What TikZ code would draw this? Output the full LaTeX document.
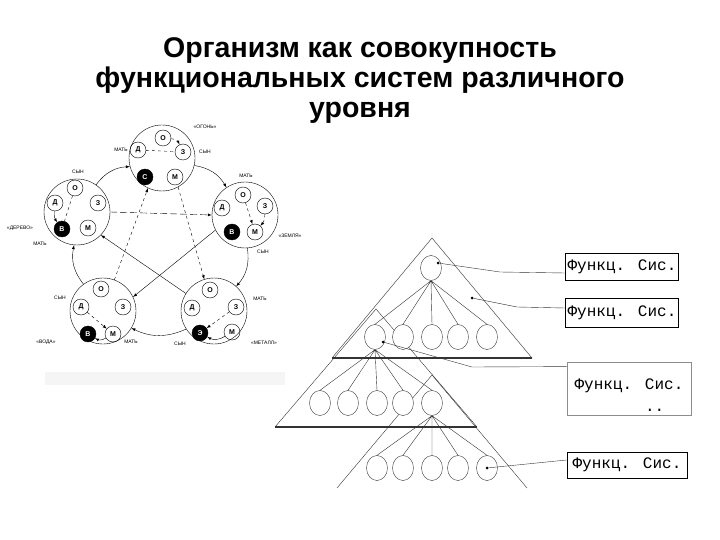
\documentclass[tikz,border=0pt]{standalone}
\usepackage{fontspec}
\setmainfont{Liberation Sans}
\newfontfamily\boxfont{Liberation Mono}
\usetikzlibrary{shapes,arrows}

\begin{document}
\begin{tikzpicture}[x=1pt,y=-1pt,>=latex,
    big/.style={circle,draw,minimum size=66pt,inner sep=0pt},
    sub/.style={circle,draw,minimum size=16pt,inner sep=0pt,font=\bfseries\fontsize{7}{7}\selectfont},
    blk/.style={sub,fill=black,text=white},
    role/.style={font=\fontsize{5}{5}\selectfont},
    leaf/.style={ellipse,draw=black!80,fill=white,minimum width=21pt,minimum height=25pt,inner sep=0pt},
    dot/.style={circle,fill,inner sep=0pt,minimum size=3pt},
    fsys/.style={draw,line width=0.9pt,font=\boxfont\fontsize{16}{18}\selectfont,inner sep=2pt}]

\useasboundingbox (0,0) rectangle (720,540);

\node[font=\bfseries\fontsize{28.5}{30}\selectfont,align=center] (title) at (360,81)
    {Организм как совокупность\\функциональных систем различного\\уровня};

% five elements
\fill[black!4] (45,372) rectangle (285,385);

\node[big] (T) at (162,158) {};
\node[big] (UL) at (77,212) {};
\node[big] (UR) at (245,215) {};
\node[big] (LL) at (103,311) {};
\node[big] (LR) at (214,311) {};

\node[sub] (To) at (163,138) {О};
\node[sub] (Td) at (138,150) {Д};
\node[sub] (Tz) at (183,152) {З};
\node[blk] (Tb) at (145,177) {С};
\node[sub] (Tm) at (175,177) {М};

\node[sub] (ULo) at (75,188) {О};
\node[sub] (ULd) at (55,203) {Д};
\node[sub] (ULz) at (98,203) {З};
\node[blk] (ULb) at (62,229) {В};
\node[sub] (ULm) at (88,228) {М};

\node[sub] (URo) at (243,195) {О};
\node[sub] (URd) at (222,208) {Д};
\node[sub] (URz) at (265,206) {З};
\node[blk] (URb) at (232,232) {В};
\node[sub] (URm) at (255,232) {М};

\node[sub] (LLo) at (101,289) {О};
\node[sub] (LLd) at (81,307) {Д};
\node[sub] (LLz) at (123,307) {З};
\node[blk] (LLb) at (88,334) {В};
\node[sub] (LLm) at (113,334) {М};

\node[sub] (LRo) at (210,290) {О};
\node[sub] (LRd) at (192,308) {Д};
\node[sub] (LRz) at (236,307) {З};
\node[blk] (LRb) at (200,333) {Э};
\node[sub] (LRm) at (232,332) {М};

\node[role] (Tt) at (205,127) {«ОГОНЬ»};
\node[role] (Tl) at (121,150) {МАТЬ};
\node[role] (Tr) at (205,152) {СЫН};
\node[role] (ULt) at (78,172) {СЫН};
\node[role] (ULl) at (20,228) {«ДЕРЕВО»};
\node[role] (ULs) at (40,244) {МАТЬ};
\node[role] (URt) at (246,176) {МАТЬ};
\node[role] (URs) at (263,252) {СЫН};
\node[role] (URr) at (290,236) {«ЗЕМЛЯ»};
\node[role] (LLl) at (60,298) {СЫН};
\node[role] (LLs) at (46,342) {«ВОДА»};
\node[role] (LLr) at (131,342) {МАТЬ};
\node[role] (LRr) at (260,299) {МАТЬ};
\node[role] (LRs) at (180,344) {СЫН};
\node[role] (LRe) at (264,343) {«МЕТАЛЛ»};

\draw[->] (T.-13) to[bend left=25] (UR.124);
\draw[->] (UR.-86) to[bend left=25] (LR.48);
\draw[->] (LR.213) to[bend left=25] (LL.-31);
\draw[->] (LL.126) to[bend left=25] (UL.-95);
\draw[->] (UL.55) to[bend left=25] (T.195);

\draw[->,dashed] (T.-61) -- (LR.107);
\draw[->,dashed] (LL.70) -- (T.-115);
\draw[->,dash pattern=on 7pt off 3pt] (UL.0) -- (UR.180);
\draw[->] (UR.-153) -- (LL.25);
\draw[->] (LR.148) -- (UL.-44);

\draw[dashed] (Td) -- (Tz);
\draw[->,dashed] (To) to[bend left=30] (Tz);
\draw[dashed] (ULo) -- (ULb);
\draw[->] (ULd) to[bend right=20] (ULb);
\draw[->,dashed] (URo) -- (URm);
\draw[->,dashed] (URz) to[bend left=20] (URm);
\draw[->,dashed] (LLd) -- (LLm);
\draw[->] (LLm) to[bend left=30] (LLb);
\draw[->,dashed] (LRz) -- (LRb);
\draw[->] (LRm) to[bend left=30] (LRb);

% levels
\coordinate (t1) at (432,238);
\coordinate (t1l) at (332,358);
\coordinate (t1r) at (532,358);
\coordinate (t2) at (376,309);
\coordinate (t2l) at (275,427);
\coordinate (t2r) at (477,427);
\coordinate (t3) at (432,375);
\coordinate (t3l) at (337,488);
\coordinate (t3r) at (527,488);

\draw[black!80,thin] (t1l) -- (t1) -- (t1r);
\draw[black!80,line width=1.4pt] (t1l) -- (t1r);
\draw[black!80,thin] (t2l) -- (t2) -- (t2r);
\draw[black!80,line width=1.4pt] (t2l) -- (t2r);
\draw[black!80,thin] (t3l) -- (t3) -- (t3r);

\node[leaf] (A) at (431,268) {};
\node[leaf] (B1) at (375,337) {};
\node[leaf] (B2) at (403,337) {};
\node[leaf] (B3) at (432,337) {};
\node[leaf] (B4) at (458,337) {};
\node[leaf] (B5) at (487,337) {};
\node[leaf] (C1) at (320,403) {};
\node[leaf] (C2) at (348,403) {};
\node[leaf] (C3) at (377,403) {};
\node[leaf] (C4) at (403,403) {};
\node[leaf] (C5) at (432,403) {};
\node[leaf] (D1) at (377,468) {};
\node[leaf] (D2) at (403,468) {};
\node[leaf] (D3) at (432,468) {};
\node[leaf] (D4) at (458,468) {};
\node[leaf] (D5) at (487,468) {};

\draw[black!80,thin] (A.south) -- (B1.north) (A.south) -- (B2.north) (A.south) -- (B3.north)
    (A.south) -- (B4.north) (A.south) -- (B5.north);
\draw[black!80,thin] (B1.south) -- (C1.north) (B1.south) -- (C2.north) (B1.south) -- (C3.north)
    (B1.south) -- (C4.north) (B1.south) -- (C5.north);
\draw[black!80,thin] (C5.south) -- (D1.north) (C5.south) -- (D2.north) (C5.south) -- (D3.north)
    (C5.south) -- (D4.north) (C5.south) -- (D5.north);

\node[fsys,minimum width=110pt,minimum height=27pt] (F1) at (622,266.5) {Функц. Сис.};
\node[fsys,minimum width=110pt,minimum height=29pt] (F2) at (622,312.5) {Функц. Сис.};
\node[fsys,draw=black!45,line width=0.8pt,minimum width=124pt,minimum height=53pt] (F3) at (629,388.5)
    {\raisebox{-1pt}[0pt][0pt]{\begin{tabular}[t]{@{}l@{}}Функц. Сис.\\[4pt]\phantom{Функц. }..\end{tabular}}};
\node[fsys,minimum width=120pt,minimum height=26pt] (F4) at (627,465) {Функц. Сис.};

\node[dot] (p1) at (438,263) {};
\node[dot] (p2) at (472,298) {};
\node[dot] (p3) at (383,342) {};
\node[dot] (p4) at (487,468) {};
\coordinate (k1) at (500,272);
\coordinate (k2) at (517,307);
\coordinate (k3) at (472,367);

\draw[black!80] ([yshift=-6.5pt]F1.west) -- (k1) -- (p1);
\draw[black!80] ([yshift=4.5pt]F2.west) -- (k2) -- (p2);
\draw[black!80] ([yshift=-5pt]F3.north west) -- (k3) -- (p3);
\draw[black!80] ([yshift=5pt]F4.west) -- (p4);

\end{tikzpicture}
\end{document}
